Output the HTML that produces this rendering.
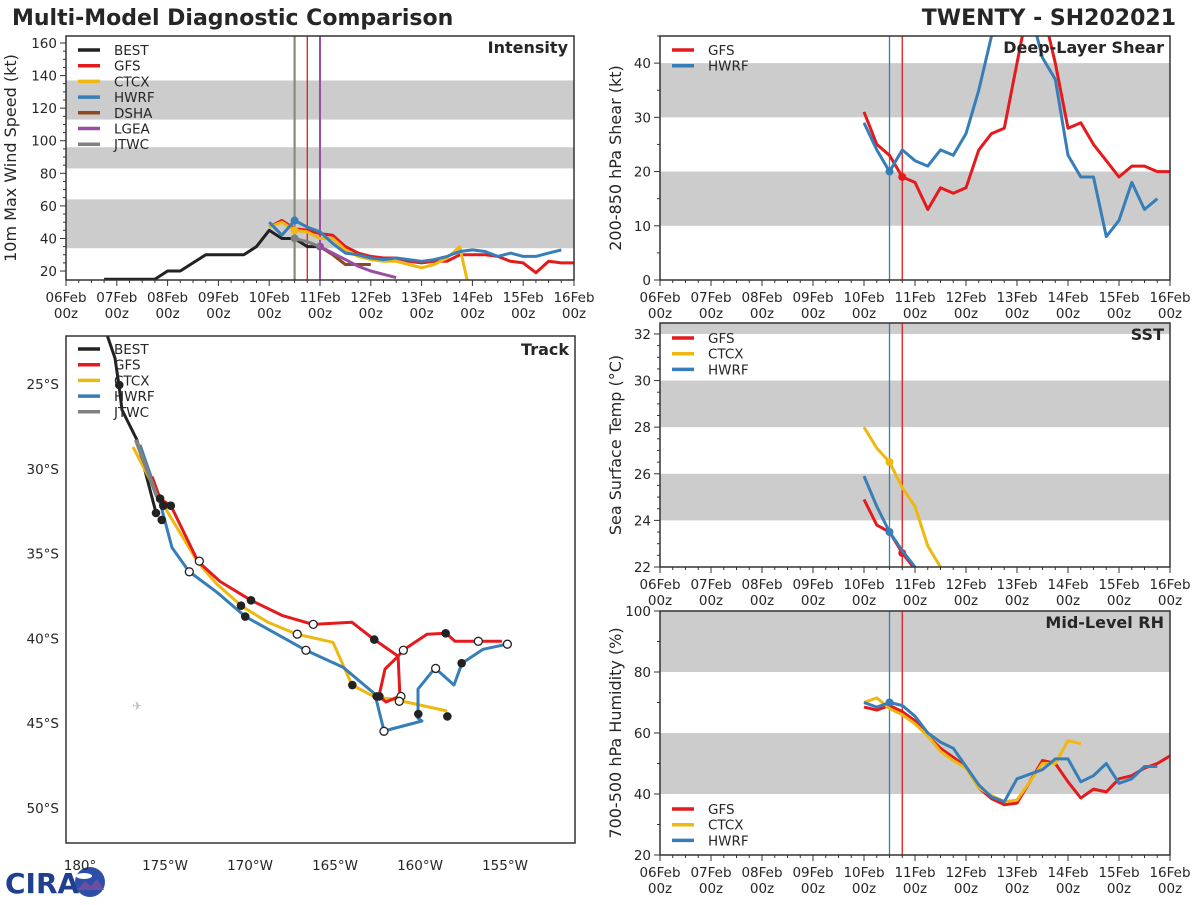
<!DOCTYPE html>
<html><head><meta charset="utf-8"><style>
html,body{margin:0;padding:0;background:#fff;}
svg text{font-family:"DejaVu Sans","Liberation Sans",sans-serif;fill:#262626;}
</style></head><body>
<svg id="fig" width="1200" height="900" viewBox="0 0 1200 900" xmlns="http://www.w3.org/2000/svg">
<text x="12" y="25" font-size="22" font-weight="bold">Multi-Model Diagnostic Comparison</text>
<text x="1176" y="25" font-size="22" font-weight="bold" text-anchor="end">TWENTY - SH202021</text>
<g>
<text x="5" y="893" font-size="28" font-weight="bold" fill="#1f3f8f" style="fill:#1f3f8f" font-family="Liberation Sans">CIRA</text>
<circle cx="90" cy="882" r="15" fill="#2d4fa8"/>
<ellipse cx="84" cy="876" rx="8" ry="3" fill="#fff"/>
<path d="M77 890 L85 881 L91 886 L97 879 L104 890 Z" fill="#6b4fa0"/>
</g>
</svg>
<script>
// ---------------- DATA ----------------
const intBestStart = 18;
const intBest = [15,15,15,15,15,20,20,25,30,30,30,30,35,45,40,40,35,35];
const intGfsStart = 96;
const intGfs = [47,51,46,45,43,42,35,31,29,28,28,26,25,26,26,30,30,30,29,26,25,19,26,25,25];
const intCtcxStart = 96;
const intCtcx = [47,50,45,44,40,40,33,29,27,26,26,24,22,24,28,35,0];
const intHwrfStart = 96;
const intHwrf = [50,42,51,47,44,37,31,30,28,27,28,27,26,27,29,32,33,32,29,31,29,29,31,33];
const intDshaStart = 120;
const intDsha = [35,30,24,24,24];
const intLgeaStart = 120;
const intLgea = [35,31,27,23,20,18,16];
const intJtwcStart = 108;
const intJtwc = [40,38,35];
const intYTicks = [20,40,60,80,100,120,140,160];
const intBands = [[34,64],[83,96],[113,137]];
const shearStart = 96;
const shearGfs = [31,25,23,19,18,13,17,16,17,24,27,28,40,52,50,40,28,29,25,22,19,21,21,20,20];
const shearHwrf = [29,24,20,24,22,21,24,23,27,35,45,52,54,50,41,37,23,19,19,8,11,18,13,15];
const shearYTicks = [0,10,20,30,40];
const shearBands = [[10,20],[30,40]];
const sstStart = 96;
const sstGfs = [24.9,23.8,23.5,22.6,21.9];
const sstCtcx = [28,27.1,26.5,25.4,24.6,22.9,22];
const sstHwrf = [25.9,24.6,23.5,22.7,22];
const sstYTicks = [22,24,26,28,30,32];
const sstBands = [[24,26],[28,30],[32,40]];
const rhStart = 96;
const rhGfs = [68.5,67.5,69,67,64,59,55,52,49,42,38.5,36.5,37,44,51,50,44,38.7,41.6,40.7,45,46,48.5,50,52.5];
const rhCtcx = [70,71.5,68,66,63,59,54,51,48.5,42,39.5,37.5,38,44,50,50,57.5,56.5];
const rhHwrf = [70,68.5,70,69,65.5,60,57,55,49,43,39,37.5,45,46.5,48,51.5,51.5,44,46,50,43.5,45,49,49];
const rhYTicks = [20,40,60,80,100];
const rhBands = [[40,60],[80,100]];
const dayLabels = ["06Feb","07Feb","08Feb","09Feb","10Feb","11Feb","12Feb","13Feb","14Feb","15Feb","16Feb"];
const trkBestLon = [178.41,177.94,177.71,177.53,176.65,175.53];
const trkBestLat = [22.1,23.47,25.06,26.53,28.29,32.59];
const trkGfsLon = [175.76,175.29,174.65,173.06,171.76,169.94,168.12,166.29,164.0,162.71,161.29,161.18,162.0,162.41,162.06,161.29,161.0,159.59,158.47,157.94,156.59,155.18];
const trkGfsLat = [30.47,31.76,32.18,35.47,36.65,37.76,38.65,39.18,39.06,40.06,41.06,43.41,43.76,43.41,41.82,41.06,40.71,39.76,39.71,40.18,40.18,40.18];
const trkCtcxLon = [176.88,175.18,173.06,171.94,170.47,168.94,167.24,165.12,164.0,162.65,161.59,158.41];
const trkCtcxLat = [28.71,32.0,35.53,36.82,38.12,39.06,39.76,40.24,42.76,43.47,43.59,44.29];
const trkHwrfLon = [176.47,175.29,174.59,173.59,171.94,170.29,166.71,164.53,162.65,162.12,159.88,160.12,160.12,159.12,158.0,157.53,156.29,154.88];
const trkHwrfLat = [28.59,32.0,34.65,36.06,37.29,38.71,40.71,41.71,43.29,45.47,44.88,44.71,43.0,41.76,42.76,41.47,40.65,40.35];
const trkJtwcLon = [176.71,175.47];
const trkJtwcLat = [28.29,31.65];
const dotFilledLon = [177.69,175.53,175.29,175.10,174.66,175.19,170.53,169.94,170.28,162.69,163.98,162.55,162.39,160.10,158.49,157.55,158.39];
const dotFilledLat = [25.06,32.61,31.76,32.18,32.18,33.02,38.08,37.76,38.72,40.08,42.76,43.43,43.43,44.47,39.71,41.47,44.61];
const dotOpenLon = [172.98,173.57,166.28,167.22,166.71,160.98,161.12,161.22,159.08,156.57,154.86,162.12];
const dotOpenLat = [35.45,36.08,39.18,39.76,40.71,40.71,43.43,43.72,41.78,40.18,40.35,45.49];
const trkLonTicks = [180,175,170,165,160,155];
const trkLatTicks = [25,30,35,40,45,50];

const C = {BEST:"#222222",GFS:"#e41a1c",CTCX:"#efb810",HWRF:"#377eb8",DSHA:"#8c4a22",LGEA:"#984ea3",JTWC:"#808080"};
const svg = document.getElementById('fig');
const NS = "http://www.w3.org/2000/svg";
function mk(tag, attrs, parent){
  const e = document.createElementNS(NS, tag);
  for (const k in attrs) e.setAttribute(k, attrs[k]);
  (parent||svg).appendChild(e);
  return e;
}
let clipId = 0;
function timePanel(p){
  const g = mk('g', {});
  
  
  const xT = h => p.x0 + h/240*(p.x1-p.x0);
  const yV = v => p.y1 - (v-p.ymin)/(p.ymax-p.ymin)*(p.y1-p.y0);
  const cid = 'clip'+(clipId++);
  const cp = mk('clipPath', {id:cid}, g);
  mk('rect', {x:p.x0, y:p.y0, width:p.x1-p.x0, height:p.y1-p.y0}, cp);
  const inner = mk('g', {'clip-path':'url(#'+cid+')'}, g);
  p.bands.forEach(b => {
    const r = mk('rect', {x:p.x0, y:yV(b[1]), width:p.x1-p.x0, height:yV(b[0])-yV(b[1]), fill:'#cccccc'}, inner);
    
    
  });
  p.vlines.forEach(v => {
    const l = mk('line', {x1:xT(v.h), x2:xT(v.h), y1:p.y0, y2:p.y1, stroke:v.c, 'stroke-width':v.w||1.3}, inner);
    
    
  });
  p.series.forEach(s => {
    const pts = s.vals.map((v,i) => xT(s.start + i*6).toFixed(1)+','+yV(v).toFixed(1)).join(' ');
    const pl = mk('polyline', {points:pts, fill:'none', stroke:C[s.k], 'stroke-width':3, 'stroke-linejoin':'round'}, inner);
    
    
    if (s.mark !== undefined){
      const c = mk('circle', {cx:xT(s.mark), cy:yV(s.vals[(s.mark-s.start)/6]), r:4, fill:C[s.k]}, inner);
      
      
    }
  });
  const fr = mk('rect', {x:p.x0, y:p.y0, width:p.x1-p.x0, height:p.y1-p.y0, fill:'none', stroke:'#333', 'stroke-width':1.5}, g);
  
  
  for (let h=0; h<=240; h+=6){
    const maj = h%24===0;
    mk('line', {x1:xT(h), x2:xT(h), y1:p.y1, y2:p.y1+(maj?6:3), stroke:'#333', 'stroke-width':1}, g);
    if (maj){
      const t = mk('text', {x:xT(h), y:p.y1+22, 'font-size':13.5, 'text-anchor':'middle'}, g);
      t.textContent = dayLabels[h/24];
      
      
      const t2 = mk('text', {x:xT(h), y:p.y1+38, 'font-size':13.5, 'text-anchor':'middle'}, g);
      t2.textContent = '00z';
      
      
    }
  }
  const st = p.yt[1]-p.yt[0];
  for (let v=p.yt[0]; v<=p.ymax+1e-6; v+=st/p.minor){
    if (v < p.ymin-1e-6) continue;
    const maj = Math.abs((v-p.yt[0])/st - Math.round((v-p.yt[0])/st))<1e-6 && v<=p.yt[p.yt.length-1];
    mk('line', {x1:p.x0, x2:p.x0-(maj?6:3), y1:yV(v), y2:yV(v), stroke:'#333', 'stroke-width':1}, g);
  }
  p.yt.forEach(v => {
    const t = mk('text', {x:p.x0-9, y:yV(v)+5, 'font-size':13.5, 'text-anchor':'end'}, g);
    t.textContent = v;
    
    
  });
  const yl = mk('text', {x:0, y:0, 'font-size':16, 'text-anchor':'middle', transform:'translate('+p.ylx+','+((p.y0+p.y1)/2)+') rotate(-90)'}, g);
  yl.textContent = p.ylabel;
  
  
  const tt = mk('text', {x:p.x1-6, y:p.y0+17, 'font-size':16, 'font-weight':'bold', 'text-anchor':'end'}, g);
  tt.textContent = p.title;
  
  
  legend(g, p.x0, p.legY, p.legend);
}
function legend(g, x0, y0, keys){
  keys.forEach((k,i) => {
    const y = y0 + i*15.7;
    const l = mk('line', {x1:x0+12, x2:x0+34, y1:y, y2:y, stroke:C[k], 'stroke-width':3.5}, g);
    
    
    const t = mk('text', {x:x0+48, y:y+5, 'font-size':13.5}, g);
    t.textContent = k;
    
    
  });
}
timePanel({name:'intensity-panel', x0:66, x1:574, y0:36, y1:280, ymin:14.5, ymax:164.3, yt:intYTicks, minor:4, bands:intBands,
  vlines:[{h:108,c:'#8a8a78',w:2.2},{h:114,c:'#e41a1c'},{h:120,c:'#984ea3',w:2}],
  series:[{k:'BEST',start:intBestStart,vals:intBest},{k:'DSHA',start:intDshaStart,vals:intDsha},{k:'LGEA',start:intLgeaStart,vals:intLgea,mark:120},
    {k:'GFS',start:intGfsStart,vals:intGfs},{k:'CTCX',start:intCtcxStart,vals:intCtcx,mark:108},{k:'HWRF',start:intHwrfStart,vals:intHwrf,mark:108},{k:'JTWC',start:intJtwcStart,vals:intJtwc,mark:108}],
  ylx:16, ylabel:'10m Max Wind Speed (kt)', title:'Intensity', legY:50, legend:['BEST','GFS','CTCX','HWRF','DSHA','LGEA','JTWC']});
timePanel({name:'shear-panel', x0:660, x1:1170, y0:36, y1:280, ymin:0, ymax:45, yt:shearYTicks, minor:2, bands:shearBands,
  vlines:[{h:108,c:'#377eb8'},{h:114,c:'#e41a1c'}],
  series:[{k:'GFS',start:shearStart,vals:shearGfs,mark:114},{k:'HWRF',start:shearStart,vals:shearHwrf,mark:108}],
  ylx:621, ylabel:'200-850 hPa Shear (kt)', title:'Deep-Layer Shear', legY:50, legend:['GFS','HWRF']});
timePanel({name:'sst-panel', x0:660, x1:1170, y0:323, y1:567, ymin:22, ymax:32.47, yt:sstYTicks, minor:4, bands:sstBands,
  vlines:[{h:108,c:'#377eb8'},{h:114,c:'#e41a1c'}],
  series:[{k:'CTCX',start:sstStart,vals:sstCtcx,mark:108},{k:'GFS',start:sstStart,vals:sstGfs,mark:114},{k:'HWRF',start:sstStart,vals:sstHwrf,mark:108}],
  ylx:621, ylabel:'Sea Surface Temp (°C)', title:'SST', legY:338, legend:['GFS','CTCX','HWRF']});
timePanel({name:'rh-panel', x0:660, x1:1170, y0:611, y1:855, ymin:20, ymax:100, yt:rhYTicks, minor:2, bands:rhBands,
  vlines:[{h:108,c:'#377eb8'},{h:114,c:'#e41a1c'}],
  series:[{k:'GFS',start:rhStart,vals:rhGfs},{k:'CTCX',start:rhStart,vals:rhCtcx},{k:'HWRF',start:rhStart,vals:rhHwrf,mark:108}],
  ylx:621, ylabel:'700-500 hPa Humidity (%)', title:'Mid-Level RH', legY:809, legend:['GFS','CTCX','HWRF']});

(function(){
  const g = mk('g', {});
  
  
  const X0=66, X1=575, Y0=336, Y1=843;
  const xL = lon => 80 + (180-lon)*17;
  const yL = lat => 384 + (lat-25)*16.95;
  const cp = mk('clipPath', {id:'trkclip'}, g);
  mk('rect', {x:X0, y:Y0, width:X1-X0, height:Y1-Y0}, cp);
  const inner = mk('g', {'clip-path':'url(#trkclip)'}, g);
  const plane = mk('text', {x:137, y:710, 'font-size':12, 'text-anchor':'middle', style:'fill:#bbb'}, inner);
  plane.textContent = '✈';
  
  
  const tracks = [['BEST',trkBestLon,trkBestLat],['CTCX',trkCtcxLon,trkCtcxLat],['HWRF',trkHwrfLon,trkHwrfLat],['GFS',trkGfsLon,trkGfsLat],['JTWC',trkJtwcLon,trkJtwcLat]];
  tracks.forEach(t => {
    const pts = t[1].map((lo,i) => xL(lo).toFixed(1)+','+yL(t[2][i]).toFixed(1)).join(' ');
    const pl = mk('polyline', {points:pts, fill:'none', stroke:C[t[0]], 'stroke-width':t[0]==='JTWC'?4:3, 'stroke-linejoin':'round'}, inner);
    
    
  });
  dotFilledLon.forEach((lo,i) => {
    const c = mk('circle', {cx:xL(lo), cy:yL(dotFilledLat[i]), r:4.3, fill:'#222'}, inner);
    
    
  });
  dotOpenLon.forEach((lo,i) => {
    const c = mk('circle', {cx:xL(lo), cy:yL(dotOpenLat[i]), r:4, fill:'#fff', stroke:'#222', 'stroke-width':1.3}, inner);
    
    
  });
  const fr = mk('rect', {x:X0, y:Y0, width:X1-X0, height:Y1-Y0, fill:'none', stroke:'#333', 'stroke-width':1.5}, g);
  
  
  trkLonTicks.forEach(lo => {
    const t = mk('text', {x:xL(lo), y:870, 'font-size':13.5, 'text-anchor':'middle'}, g);
    t.textContent = lo===180 ? '180°' : lo+'°W';
    
    
  });
  trkLatTicks.forEach(la => {
    const t = mk('text', {x:59, y:yL(la)+5, 'font-size':13.5, 'text-anchor':'end'}, g);
    t.textContent = la+'°S';
    
    
  });
  const tt = mk('text', {x:X1-6, y:Y0+19, 'font-size':16, 'font-weight':'bold', 'text-anchor':'end'}, g);
  tt.textContent = 'Track';
  
  
  legend(g, X0, 349, ['BEST','GFS','CTCX','HWRF','JTWC']);
})();
</script>
</body></html>
